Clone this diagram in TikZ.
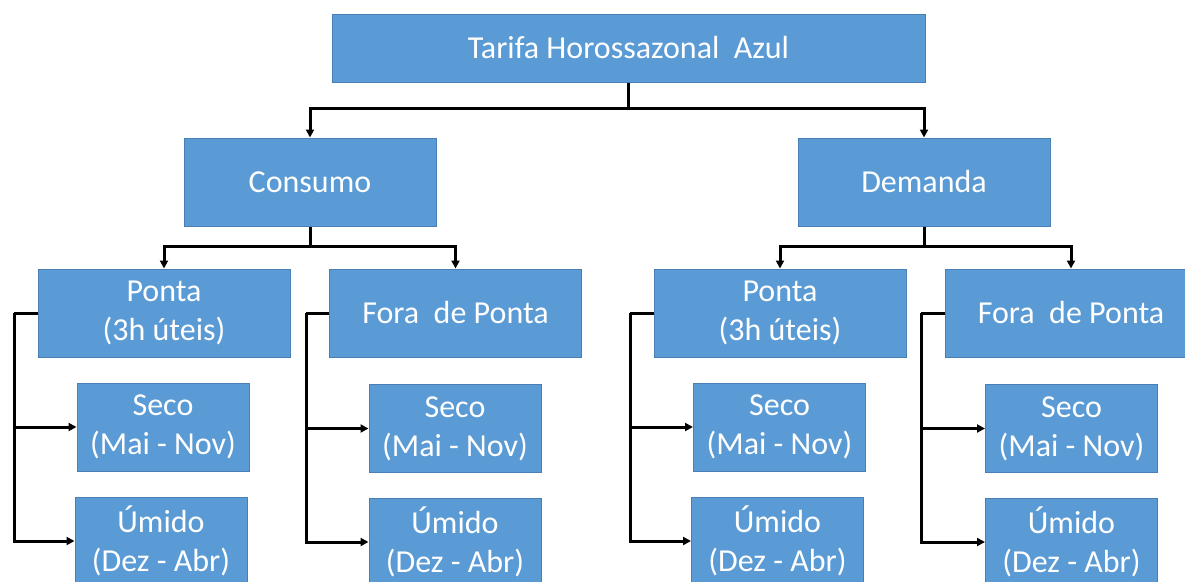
\documentclass[tikz,border=0pt]{standalone}
\usepackage{fontspec}
\setmainfont{Carlito}
\usetikzlibrary{arrows.meta}
\definecolor{boxfill}{HTML}{5B9BD5}
\definecolor{boxline}{HTML}{4A7FB5}
\begin{document}
\begin{tikzpicture}[x=1pt,y=1pt,
  box/.style={draw=boxline,line width=1pt,fill=boxfill,text=white,align=center,inner sep=0pt,
    font=\fontsize{32}{39}\selectfont},
  topbox/.style={box,minimum width=593,minimum height=68},
  midbox/.style={box,minimum width=252,minimum height=88},
  leafbox/.style={box,minimum width=172,minimum height=88},
  conn/.style={line width=3pt,black},
  arr/.style={conn,-{Triangle[length=8pt,width=8pt]}}]
\useasboundingbox (0,0) rectangle (1185,-581);
\clip (0,0) rectangle (1185,-581);
% top
\node[topbox] (top) at (628.5,-48) {Tarifa Horossazonal~~Azul};
% level 1
\node[midbox] (cons) at (310,-182) {Consumo};
\node[midbox] (dem) at (924,-182) {Demanda};
% level 2
\node[midbox] (cp) at (164,-313) {Ponta\\(3h úteis)};
\node[midbox] (cf) at (455.5,-313) {Fora~~de Ponta};
\node[midbox] (dp) at (780,-313) {Ponta\\(3h úteis)};
\node[midbox] (df) at (1071,-313) {Fora~~de Ponta};
% leaves
\node[leafbox] (cps) at (163,-427) {Seco\\(Mai - Nov)};
\node[leafbox] (cpu) at (161,-541) {Úmido\\(Dez - Abr)};
\node[leafbox] (cfs) at (455,-428.5) {Seco\\(Mai - Nov)};
\node[leafbox] (cfu) at (455,-542) {Úmido\\(Dez - Abr)};
\node[leafbox] (dps) at (779.5,-427) {Seco\\(Mai - Nov)};
\node[leafbox] (dpu) at (777.5,-541) {Úmido\\(Dez - Abr)};
\node[leafbox] (dfs) at (1071.5,-428.5) {Seco\\(Mai - Nov)};
\node[leafbox] (dfu) at (1071.5,-542) {Úmido\\(Dez - Abr)};
% junctions
\coordinate (j0) at (628.5,-108);
\coordinate (j1) at (310,-246);
\coordinate (j2) at (924,-246);
\coordinate (b1) at (14,-313);
\coordinate (b2) at (306,-313);
\coordinate (b3) at (630,-313);
\coordinate (b4) at (921,-313);
% connectors
\draw[conn] (top.south) -- (j0);
\draw[arr] (j0) -| (cons.north);
\draw[arr] (j0) -| (dem.north);
\draw[conn] (cons.south) -- (j1);
\draw[arr] (j1) -| (cp.north);
\draw[arr] (j1) -| (cf.north);
\draw[conn] (dem.south) -- (j2);
\draw[arr] (j2) -| (dp.north);
\draw[arr] (j2) -| (df.north);
\draw[conn] (cp.west) -- (b1);
\draw[arr] (b1) |- (cps.west);
\draw[arr] (b1) |- (cpu.west);
\draw[conn] (cf.west) -- (b2);
\draw[arr] (b2) |- (cfs.west);
\draw[arr] (b2) |- (cfu.west);
\draw[conn] (dp.west) -- (b3);
\draw[arr] (b3) |- (dps.west);
\draw[arr] (b3) |- (dpu.west);
\draw[conn] (df.west) -- (b4);
\draw[arr] (b4) |- (dfs.west);
\draw[arr] (b4) |- (dfu.west);
\end{tikzpicture}
\end{document}
